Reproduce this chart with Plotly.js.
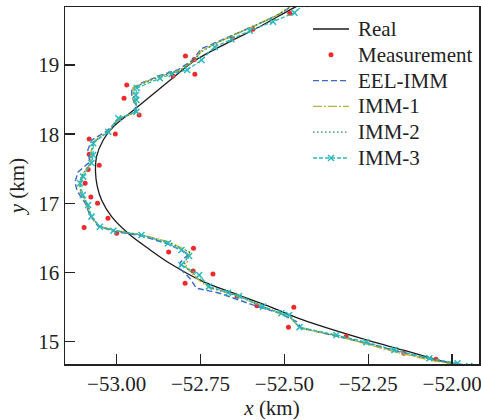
<!DOCTYPE html>
<html>
<head>
<meta charset="utf-8">
<script src="https://cdn.plot.ly/plotly-3.0.1.min.js"></script>
<style>html,body{margin:0;padding:0;background:#fff;}#chart{width:481px;height:420px;}</style>
</head>
<body>
<div id="chart"></div>
<script>
// Real trajectory
const realX = [-52.44, -52.475, -52.574, -52.673, -52.772, -52.822, -52.901, -52.961, -53.010, -53.040, -53.060, -53.063, -53.058, -53.045, -53.015, -52.966, -52.901, -52.842, -52.742, -52.643, -52.544, -52.445, -52.256, -52.137, -52.008, -51.98];
const realY = [19.90, 19.819, 19.553, 19.313, 19.048, 18.855, 18.542, 18.302, 18.108, 17.916, 17.675, 17.45, 17.25, 17.049, 16.808, 16.568, 16.33, 16.134, 15.868, 15.686, 15.507, 15.315, 15.026, 14.867, 14.689, 14.65];

// Measurements
const measX = [-52.484, -52.594, -52.655, -52.769, -52.795, -52.767, -52.832, -52.970, -52.978, -52.933, -53.004, -53.082, -53.082, -53.052, -53.085, -53.094, -53.077, -53.057, -53.026, -53.097, -53.000, -52.845, -52.771, -52.772, -52.713, -52.796, -52.641, -52.582, -52.472, -52.488, -52.316, -52.144, -52.048];
const measY = [19.747, 19.515, 19.385, 19.080, 19.130, 18.865, 18.840, 18.710, 18.520, 18.277, 18.003, 17.930, 17.710, 17.550, 17.490, 17.290, 17.090, 17.000, 16.785, 16.650, 16.568, 16.298, 16.351, 16.023, 15.980, 15.845, 15.652, 15.520, 15.498, 15.210, 15.074, 14.834, 14.747];

// EEL-IMM estimate
const eelX = [-52.464, -52.514, -52.577, -52.639, -52.699, -52.749, -52.773, -52.818, -52.871, -52.925, -52.955, -52.955, -52.943, -52.946, -52.996, -53.029, -53.074, -53.086, -53.080, -53.115, -53.124, -53.118, -53.094, -53.080, -53.056, -53.014, -52.925, -52.847, -52.785, -52.809, -52.812, -52.782, -52.762, -52.693, -52.594, -52.514, -52.464, -52.450, -52.350, -52.258, -52.169, -52.068, -51.978];
const eelY = [19.896, 19.737, 19.592, 19.462, 19.332, 19.231, 19.072, 18.928, 18.848, 18.740, 18.660, 18.537, 18.422, 18.321, 18.205, 18.046, 17.916, 17.771, 17.598, 17.454, 17.309, 17.179, 17.006, 16.832, 16.673, 16.601, 16.529, 16.413, 16.269, 16.153, 16.062, 15.917, 15.773, 15.701, 15.532, 15.412, 15.290, 15.200, 15.084, 14.982, 14.867, 14.751, 14.665];

// IMM-1 estimate
const imm1X = [-52.467, -52.520, -52.583, -52.642, -52.702, -52.749, -52.770, -52.815, -52.868, -52.922, -52.952, -52.952, -52.940, -52.943, -52.993, -53.026, -53.071, -53.077, -53.077, -53.103, -53.112, -53.106, -53.089, -53.077, -53.053, -53.011, -52.925, -52.844, -52.782, -52.794, -52.752, -52.722, -52.666, -52.633, -52.562, -52.505, -52.484, -52.455, -52.344, -52.255, -52.169, -52.068, -51.978];
const imm1Y = [19.896, 19.722, 19.578, 19.448, 19.318, 19.202, 19.058, 18.913, 18.841, 18.740, 18.668, 18.537, 18.407, 18.321, 18.220, 18.032, 17.887, 17.728, 17.584, 17.410, 17.280, 17.136, 16.977, 16.818, 16.673, 16.616, 16.543, 16.442, 16.298, 16.081, 15.878, 15.777, 15.705, 15.648, 15.504, 15.388, 15.358, 15.199, 15.084, 14.968, 14.852, 14.737, 14.665];

// IMM-2 estimate
const imm2X = [-52.466, -52.525, -52.588, -52.650, -52.705, -52.748, -52.772, -52.812, -52.862, -52.925, -52.948, -52.950, -52.941, -52.944, -52.994, -53.026, -53.071, -53.074, -53.077, -53.104, -53.110, -53.104, -53.088, -53.076, -53.052, -53.011, -52.926, -52.845, -52.783, -52.800, -52.754, -52.724, -52.667, -52.634, -52.563, -52.507, -52.485, -52.455, -52.345, -52.256, -52.170, -52.068, -51.980];
const imm2Y = [19.890, 19.710, 19.570, 19.440, 19.310, 19.190, 19.062, 18.918, 18.850, 18.725, 18.665, 18.520, 18.400, 18.323, 18.224, 18.034, 17.878, 17.715, 17.584, 17.398, 17.285, 17.130, 16.977, 16.812, 16.668, 16.610, 16.543, 16.432, 16.296, 16.095, 15.920, 15.786, 15.707, 15.655, 15.505, 15.400, 15.372, 15.204, 15.090, 14.980, 14.866, 14.749, 14.670];

// IMM-3 estimate
const imm3X = [-52.440, -52.470, -52.534, -52.603, -52.658, -52.708, -52.747, -52.790, -52.836, -52.871, -52.940, -52.943, -52.941, -52.941, -52.995, -53.025, -53.070, -53.070, -53.075, -53.100, -53.109, -53.101, -53.085, -53.075, -53.050, -53.010, -52.926, -52.847, -52.807, -52.784, -52.807, -52.754, -52.725, -52.668, -52.635, -52.564, -52.509, -52.486, -52.455, -52.345, -52.256, -52.172, -52.068, -51.984, -51.949];
const imm3Y = [19.881, 19.756, 19.626, 19.496, 19.371, 19.260, 19.072, 18.928, 18.870, 18.808, 18.667, 18.566, 18.494, 18.325, 18.230, 18.036, 17.868, 17.699, 17.584, 17.386, 17.290, 17.121, 16.977, 16.808, 16.663, 16.605, 16.543, 16.423, 16.326, 16.240, 16.110, 15.965, 15.796, 15.709, 15.662, 15.507, 15.412, 15.387, 15.209, 15.098, 14.993, 14.881, 14.761, 14.689, 14.650];

const seriesNames = ['Real', 'Measurement', 'EEL-IMM', 'IMM-1', 'IMM-2', 'IMM-3'];
const xTicks = [-53.00, -52.75, -52.50, -52.25, -52.00];
const yTicks = [15, 16, 17, 18, 19];

const FONT = '"Liberation Serif", "Times New Roman", Times, serif';
const INK = '#222';

const styles = [
  {mode: 'lines', line: {color: '#1a1a1a', width: 1.3, shape: 'spline', smoothing: 1}},
  {mode: 'markers', marker: {color: '#ee2a2a', size: 5}},
  {mode: 'lines', line: {color: '#3c68c8', width: 1.4, dash: '6px,3px'}},
  {mode: 'lines', line: {color: '#b9b43c', width: 1.4, dash: '9px,2px,2px,2px'}},
  {mode: 'lines', line: {color: '#2f8f4f', width: 1.3, dash: '1.5px,2.5px'}},
  {mode: 'lines+markers', line: {color: '#2bb8bb', width: 1.3, dash: '4px,2px'},
   marker: {symbol: 'x-thin', size: 6, line: {color: '#2bb8bb', width: 1.5}, color: '#2bb8bb'}}
];
const xs = [realX, measX, eelX, imm1X, imm2X, imm3X];
const ys = [realY, measY, eelY, imm1Y, imm2Y, imm3Y];

const traces = seriesNames.map((n, i) => Object.assign({x: xs[i], y: ys[i], name: n, showlegend: false}, styles[i]));

// Legend drawn in the plot's top-right corner (paper coordinates)
const W = 481, H = 420, ML = 65, MR = 2, MT = 7, MB = 56;
const PW = W - ML - MR, PH = H - MT - MB;
const px2x = p => (p - ML) / PW;
const py2y = p => 1 - (p - MT) / PH;
const legLineX0 = px2x(313), legLineX1 = px2x(349), legTextX = px2x(356);
const legRowY = i => py2y(29 + 25.8 * i);
const legMidX = (legLineX0 + legLineX1) / 2;

const shapes = [];
const annotations = [];
seriesNames.forEach((n, i) => {
  const st = styles[i];
  const yy = legRowY(i);
  if (st.mode.indexOf('lines') >= 0) {
    shapes.push({type: 'line', xref: 'paper', yref: 'paper', x0: legLineX0, x1: legLineX1, y0: yy, y1: yy,
      line: {color: st.line.color, width: st.line.width, dash: st.line.dash || 'solid'}});
  }
  if (st.mode.indexOf('markers') >= 0) {
    if (st.marker.symbol === 'x-thin') {
      [[-3, -3, 3, 3], [-3, 3, 3, -3]].forEach(d => shapes.push({type: 'line', xref: 'paper', yref: 'paper',
        xsizemode: 'pixel', ysizemode: 'pixel', xanchor: legMidX, yanchor: yy,
        x0: d[0], y0: d[1], x1: d[2], y1: d[3], line: {color: st.marker.line.color, width: 1.5}}));
    } else {
      shapes.push({type: 'circle', xref: 'paper', yref: 'paper', xsizemode: 'pixel', ysizemode: 'pixel',
        xanchor: legMidX, yanchor: yy, x0: -2.5, x1: 2.5, y0: -2.5, y1: 2.5,
        fillcolor: st.marker.color, line: {width: 0}});
    }
  }
  annotations.push({xref: 'paper', yref: 'paper', x: legTextX, y: yy, xanchor: 'left', yanchor: 'middle',
    text: n, showarrow: false, font: {family: FONT, size: 21, color: INK}});
});

const axisCommon = {
  showgrid: false, zeroline: false, showline: true, mirror: true,
  linecolor: INK, linewidth: 1.5,
  ticks: 'inside', ticklen: 10, tickwidth: 1.5, tickcolor: INK,
  ticklabeloverflow: 'allow', automargin: false,
  tickfont: {family: FONT, size: 21, color: INK}
};

const layout = {
  width: W, height: H,
  margin: {l: ML, r: MR, t: MT, b: MB},
  paper_bgcolor: '#fff', plot_bgcolor: '#fff',
  font: {family: FONT, size: 21, color: INK},
  showlegend: false,
  xaxis: Object.assign({}, axisCommon, {
    range: [-53.154, -51.92], tickvals: xTicks, tickformat: '.2f',
    title: {text: '<i>x</i> (km)', font: {family: FONT, size: 21, color: INK}, standoff: 0}
  }),
  yaxis: Object.assign({}, axisCommon, {
    range: [14.678, 19.838], tickvals: yTicks, tickformat: 'd',
    title: {text: '<i>y</i> (km)', font: {family: FONT, size: 21, color: INK}, standoff: 8}
  }),
  shapes: shapes,
  annotations: annotations
};

Plotly.newPlot('chart', traces, layout, {displayModeBar: false, staticPlot: true});
</script>
</body>
</html>
